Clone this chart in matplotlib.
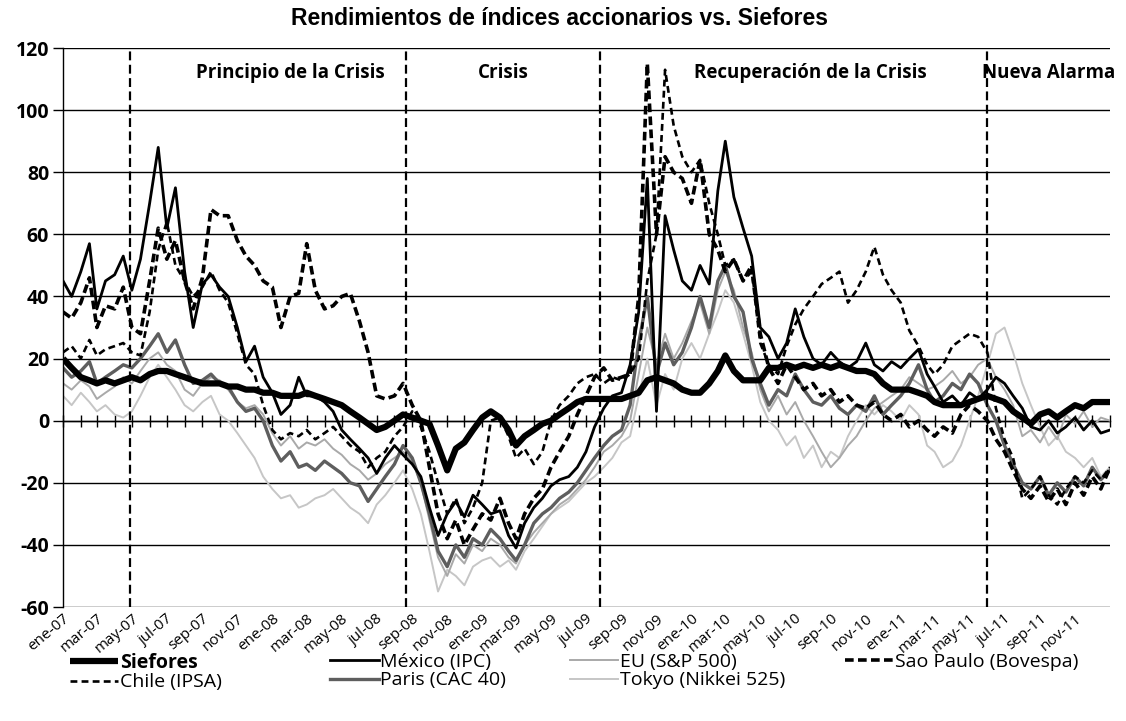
import matplotlib
matplotlib.use('Agg')
import matplotlib.pyplot as plt
from datetime import datetime

plt.rcParams['font.family'] = ['Open Sans', 'DejaVu Sans']

# quincenas: ene-07 ... ene-12
dates = [datetime(2007 + k // 24, (k % 24) // 2 + 1, 1 if k % 2 == 0 else 16) for k in range(121)]

siefores = [20, 17, 14, 13, 12, 13, 12, 13, 14, 13, 15, 16,
            16, 15, 14, 13, 12, 12, 12, 11, 11, 10, 10, 9,
            9, 8, 8, 8, 9, 8, 7, 6, 5, 3, 1, -1,
            -3, -2, 0, 2, 1, 0, -1, -8, -16, -9, -7, -3,
            1, 3, 1, -3, -8, -5, -3, -1, 0, 2, 4, 6,
            7, 7, 7, 7, 7, 8, 9, 13, 14, 13, 12, 10,
            9, 9, 12, 16, 21, 16, 13, 13, 13, 17, 17, 18,
            17, 18, 17, 18, 17, 18, 17, 16, 16, 15, 12, 10,
            10, 10, 9, 8, 6, 5, 5, 5, 6, 7, 8, 7,
            6, 3, 1, -1, 2, 3, 1, 3, 5, 4, 6, 6,
            6]

mexico = [45, 40, 48, 57, 36, 45, 47, 53, 42, 52, 70, 88,
          62, 75, 48, 30, 44, 47, 43, 40, 30, 19, 24, 14,
          9, 2, 5, 14, 8, 8, 6, 3, -3, -6, -9, -12,
          -17, -12, -8, -11, -14, -18, -28, -37, -30, -26, -31, -24,
          -27, -30, -29, -37, -41, -33, -28, -25, -21, -19, -18, -15,
          -10, -2, 4, 8, 9, 18, 35, 78, 3, 66, 55, 45,
          42, 50, 44, 74, 90, 72, 62, 53, 30, 27, 20, 25,
          36, 27, 20, 18, 22, 19, 17, 19, 25, 18, 16, 19,
          17, 20, 23, 15, 11, 6, 8, 5, 9, 7, 10, 14,
          12, 8, 4, -2, -3, 0, -4, -2, 1, -3, 0, -4,
          -3]

eu = [12, 10, 13, 11, 7, 9, 11, 14, 12, 16, 20, 22,
      18, 16, 10, 8, 12, 14, 13, 10, 6, 4, 5, 2,
      -4, -8, -5, -9, -7, -8, -6, -9, -11, -14, -16, -19,
      -17, -14, -12, -10, -13, -20, -32, -44, -50, -43, -46, -40,
      -42, -38, -40, -44, -46, -40, -36, -33, -30, -27, -25, -22,
      -19, -15, -10, -8, -5, 0, 15, 30, 18, 28, 20, 25,
      32, 38, 28, 42, 48, 42, 30, 22, 10, 3, 8, 2,
      6, 0, -5, -10, -15, -12, -8, -5, 0, 4, 6, 8,
      10, 14, 12, 10, 11, 13, 16, 12, 14, 18, 20, 14,
      10, 5, -5, -3, -7, -2, -6, 2, -1, 3, -2, 1,
      0]

sao_paulo = [35, 33, 38, 46, 30, 37, 36, 43, 30, 28, 45, 62,
             52, 58, 45, 36, 46, 68, 66, 66, 58, 53, 50, 45,
             43, 30, 40, 41, 57, 42, 36, 37, 40, 41, 32, 22,
             8, 7, 8, 12, 5, 0, -15, -30, -38, -32, -40, -35,
             -30, -32, -25, -33, -38, -30, -25, -22, -15, -10, -5, 2,
             8, 14, 17, 13, 14, 15, 40, 115, 60, 85, 80, 78,
             70, 84, 60, 55, 48, 52, 45, 50, 28, 17, 12, 18,
             14, 10, 12, 8, 10, 6, 8, 5, 4, 6, 2, 0,
             2, -2, 0, -3, -5, -2, -4, 2, 5, 3, 0, -6,
             -10, -16, -22, -25, -21, -26, -22, -27, -20, -24, -18, -22,
             -15]

chile = [22, 24, 20, 26, 21, 23, 24, 25, 22, 21, 35, 55,
         64, 50, 45, 40, 43, 48, 42, 38, 28, 18, 15, 5,
         -3, -6, -4, -5, -3, -6, -4, -2, -5, -8, -10, -15,
         -12, -10, -5, -2, 3, -2, -10, -20, -30, -25, -33, -28,
         -20, 0, 1, -5, -12, -9, -14, -10, 0, 5, 8, 12,
         14, 15, 12, 14, 13, 15, 20, 45, 60, 113, 95, 85,
         80, 84, 70, 60, 50, 52, 45, 48, 25, 18, 15, 24,
         31, 36, 40, 44, 46, 48, 38, 42, 48, 56, 47, 42,
         38, 29, 24, 18, 15, 18, 24, 26, 28, 27, 22, 4,
         -6, -12, -25, -22, -18, -24, -27, -22, -18, -20, -16, -19,
         -15]

paris = [17, 14, 16, 19, 12, 14, 16, 18, 17, 20, 24, 28,
         22, 26, 18, 12, 13, 15, 12, 11, 6, 3, 4, 0,
         -8, -13, -10, -15, -14, -16, -13, -15, -17, -20, -21, -26,
         -22, -18, -14, -8, -12, -20, -30, -42, -47, -40, -44, -38,
         -40, -35, -38, -42, -45, -40, -33, -30, -28, -25, -23, -20,
         -16, -12, -8, -5, -3, 5, 25, 40, 15, 25, 18, 22,
         30, 40, 30, 45, 50, 40, 35, 20, 12, 5, 10, 8,
         15, 10, 6, 5, 8, 4, 2, 5, 3, 8, 2, 5,
         8, 12, 18, 10, 6, 8, 12, 10, 15, 12, 5, 0,
         -8, -14, -20, -22, -18, -24, -20, -23, -18, -21, -15, -19,
         -16]

tokyo = [8, 5, 9, 6, 3, 5, 2, 1, 3, 8, 14, 18,
         14, 10, 5, 3, 6, 8, 2, 0, -4, -8, -12, -18,
         -22, -25, -24, -28, -27, -25, -24, -22, -25, -28, -30, -33,
         -27, -24, -20, -16, -22, -30, -42, -55, -48, -50, -53, -47,
         -45, -44, -47, -45, -48, -42, -38, -34, -30, -28, -26, -23,
         -20, -18, -15, -12, -7, -5, 8, 20, 5, 15, 10, 20,
         25, 20, 28, 35, 42, 38, 28, 18, 6, 0, -3, -8,
         -5, -12, -8, -15, -10, -12, -5, 0, 5, 2, 5, 3,
         0, 5, 2, -8, -10, -15, -13, -8, 0, 8, 18, 28,
         30, 22, 12, 5, -2, -8, -5, -10, -12, -15, -12, -18,
         -15]

meses = ['ene', 'feb', 'mar', 'abr', 'may', 'jun', 'jul', 'ago', 'sep', 'oct', 'nov', 'dic']
yticks = [-60, -40, -20, 0, 20, 40, 60, 80, 100, 120]

etapas = ['Principio de la Crisis', 'Crisis', 'Recuperación de la Crisis', 'Nueva Alarma']
etapas_x = [datetime(2008, 2, 1), datetime(2009, 2, 7), datetime(2010, 7, 28), datetime(2011, 9, 16)]
cortes = [datetime(2007, 4, 28), datetime(2008, 8, 22), datetime(2009, 7, 25), datetime(2011, 6, 1)]

fig = plt.figure(figsize=(11.26, 7.21), dpi=100)
ax = fig.add_axes([0.0560, 0.1581, 0.9298, 0.7753])

l_tok, = ax.plot(dates, tokyo, color='#c6c6c6', lw=1.4, label='Tokyo (Nikkei 525)')
l_eu, = ax.plot(dates, eu, color='#a9a9a9', lw=1.4, label='EU (S&P 500)')
l_par, = ax.plot(dates, paris, color='#5e5e5e', lw=2.4, label='Paris (CAC 40)')
l_chi, = ax.plot(dates, chile, color='black', lw=1.9, ls=(0, (2.6, 1.6)), label='Chile (IPSA)')
l_sao, = ax.plot(dates, sao_paulo, color='black', lw=2.6, ls=(0, (2.4, 1.2)), label='Sao Paulo (Bovespa)')
l_mex, = ax.plot(dates, mexico, color='black', lw=2.0, label='México (IPC)')
l_sie, = ax.plot(dates, siefores, color='black', lw=4.5, solid_capstyle='butt', label='Siefores')

for d in cortes:
    ax.axvline(d, color='black', lw=1.6, ls=(0, (4, 2)), zorder=5)

for txt, d in zip(etapas, etapas_x):
    ax.text(d, 112, txt, ha='center', va='center', fontsize=13.5, fontweight='bold')

ax.set_xlim(datetime(2007, 1, 1), datetime(2012, 1, 1))
ax.set_ylim(-60, 120)
ax.set_yticks(yticks)
ax.set_yticklabels([str(v) for v in yticks], fontsize=14, fontweight='bold')
ax.tick_params(axis='y', length=7, width=1, color='black', pad=3)
ax.grid(axis='y', color='black', lw=1.0)
ax.set_axisbelow(True)
for s in ['top', 'right', 'bottom']:
    ax.spines[s].set_visible(False)
ax.spines['left'].set_linewidth(1.0)

tick_dates = [datetime(2007 + i // 6, (i % 6) * 2 + 1, 1) for i in range(30)]
ax.set_xticks(tick_dates)
ax.set_xticklabels([f"{meses[d.month - 1]}-{d.year % 100:02d}" for d in tick_dates],
                   rotation=40, ha='right', rotation_mode='anchor', fontsize=11)
ax.tick_params(axis='x', length=0, pad=3)

# eje en cero con marcas mensuales
sec = ax.secondary_xaxis(1 / 3)
sec.set_xticks([datetime(2007 + i // 12, i % 12 + 1, 1) for i in range(61)])
sec.set_xticklabels([])
sec.tick_params(direction='inout', length=9, width=1, color='black')
for s in sec.spines.values():
    s.set_linewidth(1.0)

fig.text(0.497, 0.975, 'Rendimientos de índices accionarios vs. Siefores',
         ha='center', va='center', fontsize=16.5, fontweight='bold', family='Liberation Sans')

cols = [([l_sie, l_chi], 0.062), ([l_mex, l_par], 0.293), ([l_eu, l_tok], 0.506), ([l_sao], 0.750)]
for hs, x in cols:
    leg = fig.legend(handles=hs, loc='upper left', bbox_to_anchor=(x, 0.095), frameon=False,
                     borderaxespad=0, borderpad=0, handlelength=2.5, handletextpad=0.1,
                     labelspacing=0.05, prop={'family': 'Open Sans', 'size': 14})
    for t in leg.get_texts():
        if t.get_text() == 'Siefores':
            t.set_fontweight('bold')

fig.savefig('out.png', dpi=100)
